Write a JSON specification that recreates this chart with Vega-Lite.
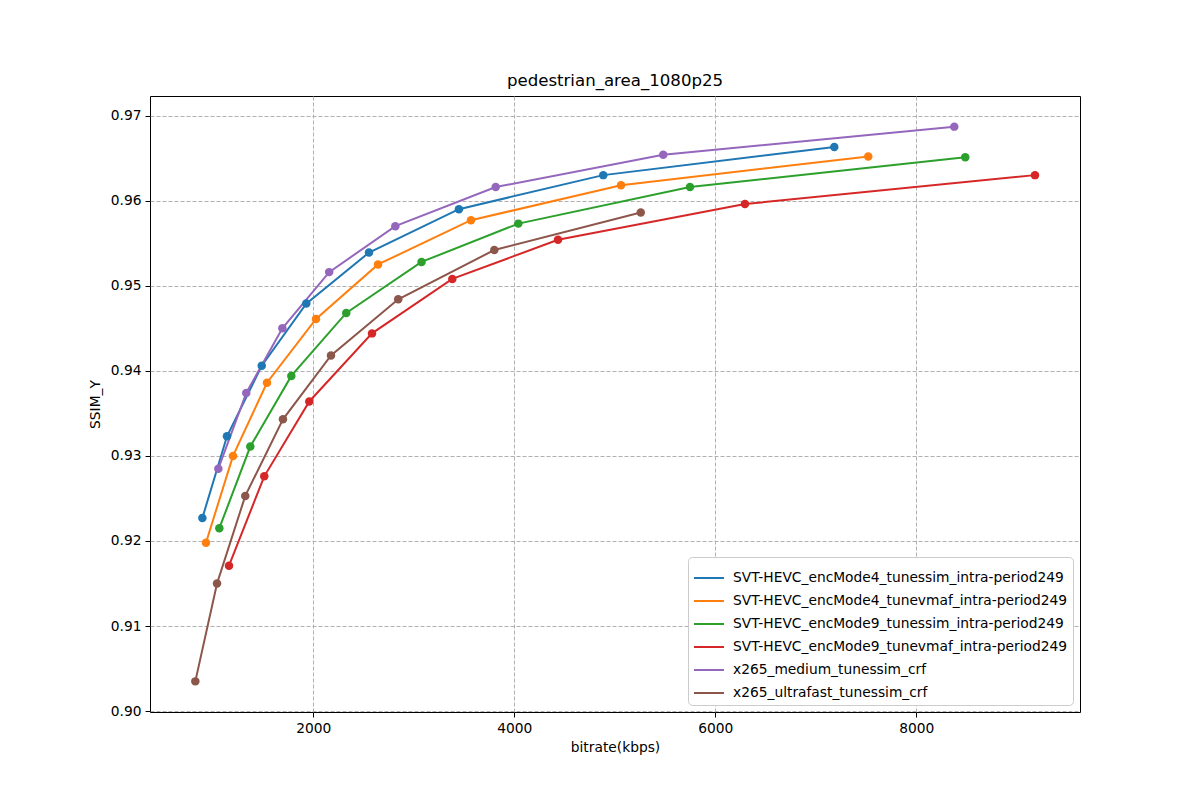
{
  "$schema": "https://vega.github.io/schema/vega-lite/v6.json",
  "description": "SSIM_Y vs bitrate for pedestrian_area_1080p25",
  "width": 930,
  "height": 616,
  "autosize": "none",
  "padding": {"left": 150, "top": 96, "right": 120, "bottom": 88},
  "background": "white",
  "title": {
    "text": "pedestrian_area_1080p25",
    "font": "DejaVu Sans",
    "fontSize": 16.6,
    "fontWeight": "normal",
    "color": "black",
    "offset": 6
  },
  "config": {
    "view": {"stroke": "black", "strokeWidth": 1},
    "axis": {
      "labelFont": "DejaVu Sans",
      "labelFontSize": 13.8,
      "labelColor": "black",
      "titleFont": "DejaVu Sans",
      "titleFontSize": 13.8,
      "titleFontWeight": "normal",
      "titleColor": "black",
      "tickColor": "black",
      "tickSize": 5,
      "tickWidth": 1,
      "domain": false,
      "grid": true,
      "gridColor": "#b0b0b0",
      "gridDash": [4, 2],
      "gridWidth": 1,
      "labelPadding": 4
    },
    "legend": {
      "labelFont": "DejaVu Sans",
      "labelFontSize": 13.8,
      "labelColor": "black"
    }
  },
  "data": {
    "values": [
      {"s": "SVT-HEVC_encMode4_tunessim_intra-period249", "bitrate": 896, "ssim": 0.9227},
      {"s": "SVT-HEVC_encMode4_tunessim_intra-period249", "bitrate": 1141, "ssim": 0.9323},
      {"s": "SVT-HEVC_encMode4_tunessim_intra-period249", "bitrate": 1487, "ssim": 0.9406},
      {"s": "SVT-HEVC_encMode4_tunessim_intra-period249", "bitrate": 1930, "ssim": 0.9479},
      {"s": "SVT-HEVC_encMode4_tunessim_intra-period249", "bitrate": 2554, "ssim": 0.9539},
      {"s": "SVT-HEVC_encMode4_tunessim_intra-period249", "bitrate": 3449, "ssim": 0.9590},
      {"s": "SVT-HEVC_encMode4_tunessim_intra-period249", "bitrate": 4885, "ssim": 0.9630},
      {"s": "SVT-HEVC_encMode4_tunessim_intra-period249", "bitrate": 7184, "ssim": 0.9663},
      {"s": "SVT-HEVC_encMode4_tunevmaf_intra-period249", "bitrate": 932, "ssim": 0.9198},
      {"s": "SVT-HEVC_encMode4_tunevmaf_intra-period249", "bitrate": 1201, "ssim": 0.9300},
      {"s": "SVT-HEVC_encMode4_tunevmaf_intra-period249", "bitrate": 1539, "ssim": 0.9386},
      {"s": "SVT-HEVC_encMode4_tunevmaf_intra-period249", "bitrate": 2027, "ssim": 0.9461},
      {"s": "SVT-HEVC_encMode4_tunevmaf_intra-period249", "bitrate": 2644, "ssim": 0.9525},
      {"s": "SVT-HEVC_encMode4_tunevmaf_intra-period249", "bitrate": 3569, "ssim": 0.9577},
      {"s": "SVT-HEVC_encMode4_tunevmaf_intra-period249", "bitrate": 5062, "ssim": 0.9618},
      {"s": "SVT-HEVC_encMode4_tunevmaf_intra-period249", "bitrate": 7522, "ssim": 0.9652},
      {"s": "SVT-HEVC_encMode9_tunessim_intra-period249", "bitrate": 1065, "ssim": 0.9215},
      {"s": "SVT-HEVC_encMode9_tunessim_intra-period249", "bitrate": 1373, "ssim": 0.9311},
      {"s": "SVT-HEVC_encMode9_tunessim_intra-period249", "bitrate": 1781, "ssim": 0.9394},
      {"s": "SVT-HEVC_encMode9_tunessim_intra-period249", "bitrate": 2328, "ssim": 0.9468},
      {"s": "SVT-HEVC_encMode9_tunessim_intra-period249", "bitrate": 3077, "ssim": 0.9528},
      {"s": "SVT-HEVC_encMode9_tunessim_intra-period249", "bitrate": 4040, "ssim": 0.9573},
      {"s": "SVT-HEVC_encMode9_tunessim_intra-period249", "bitrate": 5748, "ssim": 0.9616},
      {"s": "SVT-HEVC_encMode9_tunessim_intra-period249", "bitrate": 8487, "ssim": 0.9651},
      {"s": "SVT-HEVC_encMode9_tunevmaf_intra-period249", "bitrate": 1161, "ssim": 0.9171},
      {"s": "SVT-HEVC_encMode9_tunevmaf_intra-period249", "bitrate": 1512, "ssim": 0.9276},
      {"s": "SVT-HEVC_encMode9_tunevmaf_intra-period249", "bitrate": 1960, "ssim": 0.9364},
      {"s": "SVT-HEVC_encMode9_tunevmaf_intra-period249", "bitrate": 2584, "ssim": 0.9444},
      {"s": "SVT-HEVC_encMode9_tunevmaf_intra-period249", "bitrate": 3383, "ssim": 0.9508},
      {"s": "SVT-HEVC_encMode9_tunevmaf_intra-period249", "bitrate": 4435, "ssim": 0.9554},
      {"s": "SVT-HEVC_encMode9_tunevmaf_intra-period249", "bitrate": 6295, "ssim": 0.9596},
      {"s": "SVT-HEVC_encMode9_tunevmaf_intra-period249", "bitrate": 9181, "ssim": 0.9630},
      {"s": "x265_medium_tunessim_crf", "bitrate": 1055, "ssim": 0.9285},
      {"s": "x265_medium_tunessim_crf", "bitrate": 1333, "ssim": 0.9374},
      {"s": "x265_medium_tunessim_crf", "bitrate": 1692, "ssim": 0.9450},
      {"s": "x265_medium_tunessim_crf", "bitrate": 2158, "ssim": 0.9516},
      {"s": "x265_medium_tunessim_crf", "bitrate": 2816, "ssim": 0.9570},
      {"s": "x265_medium_tunessim_crf", "bitrate": 3815, "ssim": 0.9616},
      {"s": "x265_medium_tunessim_crf", "bitrate": 5482, "ssim": 0.9654},
      {"s": "x265_medium_tunessim_crf", "bitrate": 8378, "ssim": 0.9687},
      {"s": "x265_ultrafast_tunessim_crf", "bitrate": 826, "ssim": 0.9035},
      {"s": "x265_ultrafast_tunessim_crf", "bitrate": 1042, "ssim": 0.9150},
      {"s": "x265_ultrafast_tunessim_crf", "bitrate": 1323, "ssim": 0.9253},
      {"s": "x265_ultrafast_tunessim_crf", "bitrate": 1698, "ssim": 0.9343},
      {"s": "x265_ultrafast_tunessim_crf", "bitrate": 2176, "ssim": 0.9418},
      {"s": "x265_ultrafast_tunessim_crf", "bitrate": 2845, "ssim": 0.9484},
      {"s": "x265_ultrafast_tunessim_crf", "bitrate": 3801, "ssim": 0.9542},
      {"s": "x265_ultrafast_tunessim_crf", "bitrate": 5258, "ssim": 0.9586}
    ]
  },
  "mark": {
    "type": "line",
    "strokeWidth": 2,
    "point": {"filled": true, "size": 72, "opacity": 1}
  },
  "encoding": {
    "x": {
      "field": "bitrate",
      "type": "quantitative",
      "title": "bitrate(kbps)",
      "scale": {"domain": [375, 9629], "nice": false, "zero": false},
      "axis": {"values": [2000, 4000, 6000, 8000], "format": "d", "titlePadding": 6}
    },
    "y": {
      "field": "ssim",
      "type": "quantitative",
      "title": "SSIM_Y",
      "scale": {"domain": [0.8999, 0.9723], "nice": false, "zero": false},
      "axis": {
        "values": [0.90, 0.91, 0.92, 0.93, 0.94, 0.95, 0.96, 0.97],
        "format": ".2f",
        "titlePadding": 8
      }
    },
    "color": {
      "field": "s",
      "type": "nominal",
      "scale": {
        "domain": [
          "SVT-HEVC_encMode4_tunessim_intra-period249",
          "SVT-HEVC_encMode4_tunevmaf_intra-period249",
          "SVT-HEVC_encMode9_tunessim_intra-period249",
          "SVT-HEVC_encMode9_tunevmaf_intra-period249",
          "x265_medium_tunessim_crf",
          "x265_ultrafast_tunessim_crf"
        ],
        "range": ["#1f77b4", "#ff7f0e", "#2ca02c", "#d62728", "#9467bd", "#8c564b"]
      },
      "legend": {
        "title": null,
        "orient": "bottom-right",
        "offset": 7,
        "symbolType": "stroke",
        "symbolSize": 900,
        "symbolStrokeWidth": 2,
        "symbolOpacity": 1,
        "labelOffset": 8,
        "rowPadding": -2,
        "padding": 5,
        "fillColor": "white",
        "strokeColor": "#cccccc",
        "cornerRadius": 4,
        "labelLimit": 400
      }
    }
  }
}
